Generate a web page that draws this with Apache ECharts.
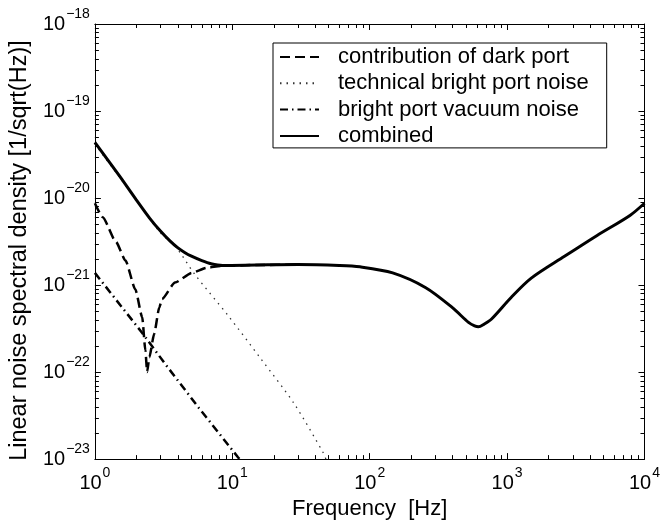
<!DOCTYPE html>
<html>
<head>
<meta charset="utf-8">
<script src="https://cdn.jsdelivr.net/npm/echarts@6/dist/echarts.min.js"></script>
<style>
  html, body { margin: 0; padding: 0; background: #fff; }
  #container { width: 663px; height: 525px; }
</style>
</head>
<body>
<div id="container"></div>
<script>
var FONT = '"Liberation Sans", Arial, Helvetica, sans-serif';

// values: [frequency Hz, noise 1/sqrt(Hz)]
var darkPort = [
  [1, 8.71e-21], [1.14, 6.03e-21], [1.42, 3.16e-21], [1.67, 1.91e-21],
  [1.97, 8.91e-22], [2.21, 4.27e-22], [2.33, 1.78e-22], [2.4, 1.0e-22],
  [2.49, 1.48e-22], [2.7, 2.75e-22], [2.94, 5.5e-22], [3.08, 6.9e-22],
  [3.83, 1.07e-21], [5.07, 1.38e-21], [6.5, 1.58e-21], [8.3, 1.66e-21],
  [15, 1.70e-21], [30, 1.72e-21]
];
var technicalBright = [
  [1, 4.17e-20], [2, 9.55e-21], [3, 3.98e-21], [3.85, 2.79e-21],
  [5.35, 1.32e-21], [9.31, 4.47e-22], [16.2, 1.41e-22], [28.1, 4.37e-23],
  [46.1, 1.17e-23], [48, 1.0e-23]
];
var brightVacuum = [
  [1, 1.38e-21], [2.21, 2.82e-22], [3.26, 1.23e-22], [5.7, 3.89e-23],
  [11, 1.05e-23], [11.3, 1.0e-23]
];
var combined = [
  [1, 4.37e-20], [1.5, 1.82e-20], [2, 9.55e-21], [2.5, 5.89e-21],
  [3, 4.17e-21], [3.5, 3.24e-21], [4, 2.69e-21], [4.5, 2.37e-21],
  [5, 2.16e-21], [6, 1.91e-21], [7, 1.76e-21], [8.5, 1.68e-21],
  [15, 1.70e-21], [30, 1.72e-21], [60, 1.68e-21], [85, 1.62e-21],
  [147, 1.38e-21], [256, 9.33e-22], [400, 5.50e-22], [524, 3.72e-22],
  [580, 3.39e-22], [618, 3.31e-22], [680, 3.55e-22], [771, 4.07e-22],
  [1074, 7.24e-22], [1500, 1.20e-21], [2618, 2.14e-21], [4520, 3.72e-21],
  [7837, 6.31e-21], [10000, 8.71e-21]
];

var seriesNames = ['contribution of dark port', 'technical bright port noise',
  'bright port vacuum noise', 'combined'];

// axis ranges and minor tick layout
var xMin = 1, xMax = 1e4, yMin = 1e-23, yMax = 1e-18;
var xDecades = [1, 10, 100, 1000];
var yDecades = [1e-23, 1e-22, 1e-21, 1e-20, 1e-19];
var minorSteps = [2, 3, 4, 5, 6, 7, 8, 9];

// the log scale loses very small numbers, so y is handed to echarts in units of 1e-21
var Y_EXP = 21, Y_UNIT = 1e21;
function sy(v) { return +(v * Y_UNIT).toPrecision(6); }
function toChart(arr) { return arr.map(function (p) { return [p[0], sy(p[1])]; }); }

var xMinor = [], yMinor = [];
xDecades.forEach(function (d) { minorSteps.forEach(function (m) { xMinor.push(m * d); }); });
yDecades.forEach(function (d) { minorSteps.forEach(function (m) { yMinor.push(sy(m * d)); }); });

function expLabel(e) {
  return '{b|10}{s|' + String(e).replace('-', '\u2212') + '}';
}
var powRich = {
  b: { fontSize: 20, fontFamily: FONT, color: '#000' },
  s: { fontSize: 14, fontFamily: FONT, color: '#000', padding: [0, 0, 20, 1] }
};

// short inward tick drawn at a data position, dx/dy = direction
var MINOR_LEN = 4;
function minorSeries(data, dx, dy) {
  return {
    type: 'custom', silent: true, animation: false, clip: false, z: 10,
    encode: { x: 0, y: 1 },
    data: data,
    renderItem: function (params, api) {
      var p = api.coord([api.value(0), api.value(1)]);
      var x = dx ? p[0] : Math.round(p[0]) + 0.5;
      var y = dy ? p[1] : Math.round(p[1]) + 0.5;
      return {
        type: 'line',
        shape: { x1: x, y1: y, x2: x + dx * MINOR_LEN, y2: y + dy * MINOR_LEN },
        style: { stroke: '#000', lineWidth: 1 }
      };
    }
  };
}

var chart = echarts.init(document.getElementById('container'));

function logAxis(extra) {
  return Object.assign({
    type: 'log', logBase: 10,
    axisLine: { show: true, lineStyle: { color: '#000', width: 1 } },
    axisTick: { show: true, inside: true, length: 6, lineStyle: { color: '#000', width: 1 } },
    splitLine: { show: false }
  }, extra);
}

var yLo = sy(yMin), yHi = sy(yMax);

var option = {
  animation: false,
  backgroundColor: '#fff',
  grid: { left: 92, top: 24, right: 15, bottom: 62 },
  legend: {
    data: seriesNames,
    orient: 'vertical',
    left: 273, top: 43,
    padding: [3, 18, 1, 6],
    itemGap: 4.3,
    itemWidth: 39, itemHeight: 14,
    borderColor: '#000', borderWidth: 1,
    backgroundColor: '#fff',
    selectedMode: false,
    itemStyle: { opacity: 0 },   // hide the marker dot, keep the line sample
    textStyle: { fontFamily: FONT, fontSize: 22, color: '#000', lineHeight: 22, padding: [0, 0, 0, 14] }
  },
  xAxis: [
    logAxis({
      position: 'bottom', min: xMin, max: xMax,
      name: 'Frequency  [Hz]', nameLocation: 'middle', nameGap: 36,
      nameTextStyle: { fontFamily: FONT, fontSize: 22, color: '#000' },
      axisLabel: {
        margin: 7, rich: powRich,
        formatter: function (v) { return expLabel(Math.round(Math.log10(v))); }
      }
    }),
    logAxis({ position: 'top', min: xMin, max: xMax, axisLabel: { show: false } })
  ],
  yAxis: [
    logAxis({
      position: 'left', min: yLo, max: yHi,
      name: 'Linear noise spectral density [1/sqrt(Hz)]', nameLocation: 'middle',
      nameGap: 55, nameRotate: 90,
      nameTextStyle: { fontFamily: FONT, fontSize: 23.5, color: '#000', padding: [0, 18, 0, 0] },
      axisLabel: {
        margin: 5, rich: powRich,
        formatter: function (v) { return expLabel(Math.round(Math.log10(v)) - Y_EXP); }
      }
    }),
    logAxis({ position: 'right', min: yLo, max: yHi, axisLabel: { show: false } })
  ],
  series: [
    {
      name: seriesNames[0], type: 'line', data: toChart(darkPort), showSymbol: false,
      smooth: 0.2, smoothMonotone: 'x',
      lineStyle: { color: '#000', width: 2.5, type: [10, 5] }, itemStyle: { color: '#000' }, z: 3
    },
    {
      name: seriesNames[1], type: 'line', data: toChart(technicalBright), showSymbol: false,
      smooth: 0.3,
      lineStyle: { color: '#333', width: 1.3, type: [1.5, 5] }, itemStyle: { color: '#333' }, z: 2
    },
    {
      name: seriesNames[2], type: 'line', data: toChart(brightVacuum), showSymbol: false,
      lineStyle: { color: '#000', width: 2.5, type: [8, 4, 1.5, 4] }, itemStyle: { color: '#000' }, z: 3
    },
    {
      name: seriesNames[3], type: 'line', data: toChart(combined), showSymbol: false,
      smooth: 0.3,
      lineStyle: { color: '#000', width: 3 }, itemStyle: { color: '#000' }, z: 4
    },
    // minor ticks, inside on all four sides
    minorSeries(xMinor.map(function (v) { return [v, yLo]; }), 0, -1),
    minorSeries(xMinor.map(function (v) { return [v, yHi]; }), 0, 1),
    minorSeries(yMinor.map(function (v) { return [xMin, v]; }), 1, 0),
    minorSeries(yMinor.map(function (v) { return [xMax, v]; }), -1, 0)
  ]
};

chart.setOption(option);
</script>
</body>
</html>
